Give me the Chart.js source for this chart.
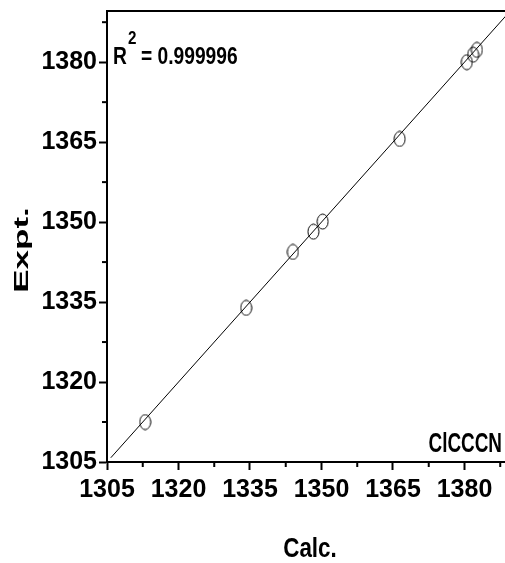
<!DOCTYPE html>
<html>
<head>
<meta charset="utf-8">
<script src="https://cdn.jsdelivr.net/npm/chart.js@4.4.1/dist/chart.umd.min.js"></script>
<style>
html,body{margin:0;padding:0;background:#fff;overflow:hidden}
#wrap{width:505px;height:563px}
</style>
</head>
<body>
<div id="wrap"><canvas id="c" width="505" height="563"></canvas></div>
<script>
// values
var calc=[1313.0,1334.2,1344.0,1348.3,1350.25,1366.4,1380.5,1381.8,1382.6];
var expt=[1312.5,1333.9,1344.4,1348.2,1350.1,1365.6,1380.0,1381.4,1382.3];
var fitX=[1305.8,1390];
var fitY=[1305.8,1390];
var majorTicks=[1305,1320,1335,1350,1365,1380];
var minorTicks=[1312.5,1327.5,1342.5,1357.5,1372.5,1387.5];
var r2Value='0.999996';
var molName='ClCCCN';

var fam="'Liberation Sans',Arial,sans-serif";

// open ellipse used as marker
var mark=document.createElement('canvas');
mark.width=13;mark.height=17;
var mc=mark.getContext('2d');
mc.strokeStyle='#000';mc.lineWidth=1;
mc.beginPath();mc.ellipse(6.5,8.5,5.5,7.5,0,0,Math.PI*2);mc.stroke();

var pts=[];
for(var i=0;i<calc.length;i++){pts.push({x:calc[i],y:expt[i]});}
var fit=[];
for(var j=0;j<fitX.length;j++){fit.push({x:fitX[j],y:fitY[j]});}

// text squeezed sideways to look like the narrow face of the original
function squeezed(ctx,txt,x,y,size,sx,align){
  ctx.save();
  ctx.translate(x,y);ctx.scale(sx,1);
  ctx.font='bold '+size+'px '+fam;
  ctx.textAlign=align||'left';
  ctx.fillText(txt,0,0);
  ctx.restore();
}

var extras={
  id:'extras',
  afterDraw:function(chart){
    var ctx=chart.ctx,a=chart.chartArea;
    var sx=chart.scales.x,sy=chart.scales.y;
    ctx.save();
    ctx.strokeStyle='#000';
    ctx.lineWidth=2;
    // top frame line
    ctx.beginPath();ctx.moveTo(a.left,a.top);ctx.lineTo(a.right+2,a.top);ctx.stroke();
    // minor ticks
    minorTicks.forEach(function(v){
      var px=sx.getPixelForValue(v);
      if(px<=a.right+1){ctx.beginPath();ctx.moveTo(px,a.bottom);ctx.lineTo(px,a.bottom+5);ctx.stroke();}
      var py=sy.getPixelForValue(v);
      ctx.beginPath();ctx.moveTo(a.left-5,py);ctx.lineTo(a.left,py);ctx.stroke();
    });
    ctx.fillStyle='#000';
    ctx.textBaseline='middle';
    squeezed(ctx,'Calc.',310,549,28,0.8,'center');
    ctx.save();
    ctx.translate(22,250);ctx.rotate(-Math.PI/2);ctx.scale(1.75,1);
    ctx.font='bold 20px '+fam;
    ctx.textAlign='center';
    ctx.fillText('Expt.',0,0);
    ctx.restore();
    ctx.textBaseline='alphabetic';
    squeezed(ctx,'R',113,64,24,0.8);
    squeezed(ctx,'2',128,44,19,0.8);
    squeezed(ctx,'= '+r2Value,141,64,24,0.8);
    squeezed(ctx,molName,502,452,27,0.7,'right');
    ctx.restore();
  }
};

var tickFont={family:fam,size:25,weight:'bold'};

function noPad(s){s.paddingLeft=0;s.paddingRight=0;s.paddingTop=0;s.paddingBottom=0;}

new Chart(document.getElementById('c'),{
  data:{
    datasets:[
      {type:'line',data:fit,borderColor:'#000',borderWidth:1,pointRadius:0,fill:false,order:2},
      {type:'scatter',data:pts,pointStyle:mark,pointRadius:7,order:1}
    ]
  },
  options:{
    responsive:false,
    animation:false,
    devicePixelRatio:1,
    layout:{autoPadding:false,padding:{top:11,left:0,right:0,bottom:0}},
    plugins:{legend:{display:false},tooltip:{enabled:false}},
    scales:{
      x:{
        type:'linear',min:1305,max:1388.5,
        afterBuildTicks:function(s){s.ticks=majorTicks.map(function(v){return {value:v};});},
        afterFit:function(s){s.height=101;noPad(s);},
        grid:{drawOnChartArea:false,tickLength:8,tickWidth:2,tickColor:'#000'},
        border:{color:'#000',width:2},
        ticks:{color:'#000',font:tickFont,padding:5,maxRotation:0,autoSkip:false,
          callback:function(v){return String(v);}}
      },
      y:{
        type:'linear',min:1305,max:1389.6,
        afterBuildTicks:function(s){s.ticks=majorTicks.map(function(v){return {value:v};});},
        afterFit:function(s){s.width=107;noPad(s);},
        grid:{drawOnChartArea:false,tickLength:8,tickWidth:2,tickColor:'#000'},
        border:{color:'#000',width:2},
        ticks:{color:'#000',font:tickFont,padding:2,autoSkip:false,
          callback:function(v){return String(v);}}
      }
    }
  },
  plugins:[extras]
});
</script>
</body>
</html>
